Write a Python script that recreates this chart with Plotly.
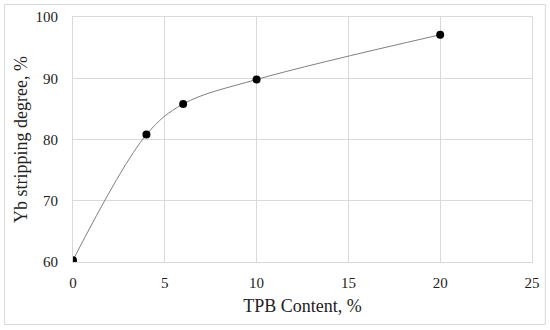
import plotly.graph_objects as go

tpb_content = [0, 4, 6, 10, 20]
yb_stripping = [60.3, 80.8, 85.8, 89.8, 97.1]

x_ticks = [0, 5, 10, 15, 20, 25]
y_ticks = [60, 70, 80, 90, 100]

font_family = "Liberation Serif"
grid = "#d9d9d9"
text_col = "#222222"

fig = go.Figure()

fig.add_trace(go.Scatter(
    x=tpb_content, y=yb_stripping,
    mode="lines",
    line=dict(color="#808080", width=1, shape="spline", smoothing=1.0),
    hoverinfo="skip",
))
fig.add_trace(go.Scatter(
    x=tpb_content, y=yb_stripping,
    mode="markers",
    marker=dict(color="black", size=8),
))

# thin outer frame like the Excel chart area
fig.add_shape(type="rect", xref="paper", yref="paper",
              x0=-0.149, x1=1.029, y0=-0.255, y1=1.051,
              line=dict(color=grid, width=1), layer="below")

fig.update_xaxes(
    range=[0, 25], tickvals=x_ticks,
    showgrid=True, gridcolor=grid, gridwidth=1,
    showline=True, linecolor=grid, mirror=True, zeroline=False,
    ticks="", ticklabelstandoff=7,
    tickfont=dict(family=font_family, size=15, color=text_col),
    title=dict(text="TPB Content, %", standoff=9,
               font=dict(family=font_family, size=18, color=text_col)),
)
fig.update_yaxes(
    range=[60, 100], tickvals=y_ticks,
    showgrid=True, gridcolor=grid, gridwidth=1,
    showline=True, linecolor=grid, mirror=True, zeroline=False,
    ticks="", ticklabelstandoff=11,
    tickfont=dict(family=font_family, size=15, color=text_col),
    title=dict(text="Yb stripping degree, %", standoff=3,
               font=dict(family=font_family, size=18, color=text_col)),
)

fig.update_layout(
    width=550, height=330,
    margin=dict(l=73, r=18, t=17, b=68, autoexpand=False),
    plot_bgcolor="white", paper_bgcolor="white",
    showlegend=False,
)

fig.write_html("out.html", config={"displayModeBar": False},
               post_script="document.body.style.margin='0';")
